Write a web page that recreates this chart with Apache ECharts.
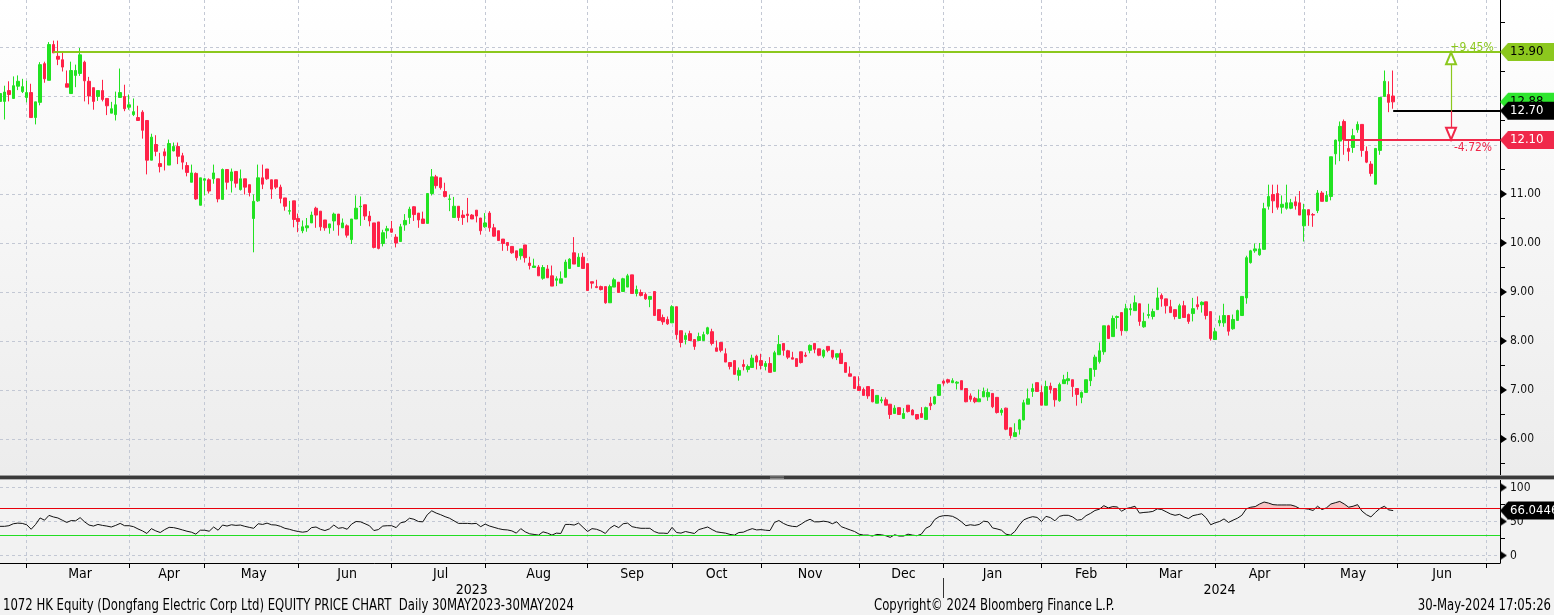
<!DOCTYPE html>
<html><head><meta charset="utf-8">
<script src="https://cdn.jsdelivr.net/npm/echarts@6/dist/echarts.min.js"></script>
<style>html,body{margin:0;padding:0;background:#f2f2f2}#c{width:1554px;height:615px}</style>
</head><body><div id="c"></div>
<script>
// ---------------- data ----------------
const open = [
12.89,12.89,13.11,12.95,13.20,13.09,12.97,13.07,12.56,12.87,
13.66,13.32,14.05,13.81,13.74,13.25,13.05,13.42,13.46,13.69,
13.30,13.17,12.99,13.11,12.95,12.65,12.62,12.97,12.99,12.77,
12.62,12.56,12.67,12.50,11.69,12.01,11.62,11.86,11.59,11.88,
11.97,11.78,11.58,11.24,11.42,10.77,11.28,11.29,11.31,11.31,
10.89,11.50,11.27,11.46,11.09,11.31,11.19,10.50,10.86,11.33,
11.51,11.29,11.29,11.14,10.92,10.65,10.86,10.50,10.25,10.31,
10.41,10.71,10.65,10.47,10.31,10.45,10.59,10.31,10.35,10.07,
10.49,10.74,10.78,10.55,10.41,10.43,9.99,10.25,10.29,10.12,
10.03,10.37,10.52,10.74,10.61,10.49,10.40,11.01,11.35,11.33,
11.05,10.89,10.52,10.75,10.57,10.59,10.57,10.67,10.51,10.33,
10.61,10.31,10.25,10.08,10.01,9.93,9.84,9.74,9.96,9.59,
9.50,9.51,9.28,9.47,9.33,9.24,9.18,9.30,9.48,9.80,
9.52,9.71,9.58,9.21,9.11,9.11,9.11,8.78,9.10,9.20,
9.01,9.10,9.35,8.97,8.99,8.95,8.85,9.01,8.64,8.48,
8.44,8.37,8.70,8.21,8.03,8.15,8.03,8.01,8.01,8.15,
8.19,7.86,7.97,7.74,7.56,7.60,7.30,7.52,7.42,7.46,
7.69,7.60,7.48,7.54,7.38,7.72,7.95,7.80,7.66,7.64,
7.78,7.71,7.81,7.95,7.84,7.69,7.89,7.81,7.67,7.75,
7.56,7.33,7.27,7.07,7.01,7.07,7.01,6.73,6.78,6.80,
6.71,6.52,6.64,6.42,6.69,6.59,6.50,6.52,6.40,6.73,
6.72,6.89,7.18,7.21,7.15,7.14,7.19,7.03,6.88,6.83,
6.76,6.86,6.86,6.93,6.85,6.54,6.63,6.23,6.05,6.20,
6.39,6.71,6.97,7.15,6.95,6.69,7.08,7.03,6.78,7.13,
7.19,7.21,7.03,6.85,6.95,7.19,7.42,7.58,7.78,8.31,
8.09,8.48,8.58,8.21,8.64,8.62,8.76,8.29,8.52,8.50,
8.64,8.93,8.86,8.70,8.64,8.46,8.72,8.54,8.56,8.74,
8.74,8.80,8.60,8.03,8.37,8.37,8.52,8.25,8.42,8.52,
8.88,9.60,9.84,9.76,9.87,10.75,10.99,11.01,10.73,10.71,
10.71,10.84,10.82,10.35,10.68,10.58,10.66,11.02,10.85,10.95,
11.82,12.08,12.48,11.93,11.95,12.31,12.42,11.87,11.61,11.20,
11.89,12.99,13.03,13.00];
const close = [
13.05,13.08,13.03,13.21,13.30,13.19,13.07,12.56,12.88,13.64,
13.35,14.05,13.88,13.75,13.59,13.18,13.52,13.52,13.84,13.31,
13.00,12.89,13.11,12.93,12.80,12.74,12.82,13.07,12.74,12.82,
12.68,12.50,12.30,11.69,12.16,11.87,11.56,11.78,12.03,11.97,
11.77,11.65,11.44,11.43,10.90,11.33,11.31,11.06,11.43,10.90,
11.50,11.24,11.45,11.22,11.31,11.14,11.03,10.85,11.33,11.20,
11.31,11.10,11.14,10.91,10.75,10.66,10.48,10.44,10.33,10.35,
10.57,10.57,10.33,10.31,10.39,10.59,10.37,10.41,10.16,10.49,
10.71,10.75,10.55,10.45,9.91,9.89,10.21,10.29,10.22,10.00,
10.33,10.46,10.69,10.58,10.47,10.40,11.01,11.35,11.17,11.13,
10.95,10.90,10.75,10.52,10.52,10.56,10.49,10.55,10.25,10.41,
10.31,10.14,10.05,9.99,9.95,9.80,9.70,9.88,9.70,9.54,
9.53,9.33,9.50,9.29,9.12,9.27,9.27,9.61,9.67,9.57,
9.71,9.48,9.03,9.18,9.09,9.05,8.78,9.11,9.25,8.99,
9.27,9.33,8.97,9.05,8.93,8.86,8.91,8.52,8.42,8.39,
8.35,8.70,8.13,7.97,8.11,8.01,7.89,8.09,8.13,8.27,
7.95,7.79,7.81,7.57,7.48,7.32,7.40,7.48,7.48,7.65,
7.57,7.50,7.54,7.36,7.76,7.93,7.81,7.67,7.63,7.48,
7.56,7.69,7.91,7.83,7.71,7.81,7.81,7.67,7.74,7.54,
7.36,7.28,7.03,6.99,6.89,6.88,6.76,6.89,6.80,6.69,
6.50,6.63,6.50,6.52,6.56,6.49,6.41,6.44,6.64,6.68,
6.86,7.11,7.14,7.16,7.19,7.16,7.01,6.76,6.81,6.76,
6.82,6.97,6.95,6.66,6.54,6.59,6.20,6.07,6.13,6.39,
6.74,6.82,7.03,6.97,6.69,7.07,7.01,6.80,7.11,7.21,
7.23,7.07,6.91,6.95,7.21,7.44,7.67,7.80,8.31,8.05,
8.46,8.50,8.21,8.66,8.66,8.78,8.40,8.40,8.54,8.60,
8.88,8.86,8.72,8.58,8.50,8.72,8.48,8.40,8.66,8.70,
8.79,8.52,8.05,8.19,8.42,8.52,8.20,8.44,8.62,8.91,
9.70,9.84,9.88,9.88,10.70,10.95,10.86,10.73,10.79,10.82,
10.82,10.76,10.57,10.68,10.57,10.57,11.02,10.85,10.97,11.76,
12.10,12.38,12.11,11.87,12.19,12.42,11.89,11.65,11.42,11.93,
12.97,13.30,12.87,12.88];
const low = [
12.89,12.52,12.89,12.95,13.12,13.06,12.87,12.56,12.42,12.81,
13.27,13.32,13.88,13.63,13.50,13.18,13.05,13.18,13.41,12.89,
12.83,12.72,12.90,12.89,12.61,12.65,12.50,12.97,12.69,12.72,
12.59,12.50,12.13,11.40,11.69,11.77,11.44,11.48,11.59,11.87,
11.61,11.50,11.36,11.24,10.88,10.77,10.97,11.01,11.21,10.83,
10.89,11.09,11.03,11.13,11.07,10.99,10.95,9.81,10.84,11.10,
11.29,10.90,11.10,10.81,10.66,10.58,10.32,10.22,10.20,10.23,
10.41,10.31,10.25,10.25,10.19,10.25,10.15,10.31,10.11,9.98,
10.49,10.35,10.47,10.34,9.89,9.87,9.93,10.09,10.21,9.91,
10.03,10.25,10.39,10.45,10.31,10.40,10.40,10.97,11.11,11.09,
10.93,10.65,10.52,10.45,10.37,10.42,10.49,10.42,10.17,10.31,
10.23,10.13,10.05,9.84,9.84,9.78,9.64,9.66,9.60,9.46,
9.50,9.33,9.25,9.29,9.12,9.12,9.18,9.30,9.48,9.57,
9.52,9.48,9.03,9.07,9.08,9.03,8.76,8.78,9.10,8.99,
9.01,9.10,8.97,8.91,8.91,8.84,8.69,8.52,8.42,8.33,
8.33,8.37,8.03,7.87,7.93,8.01,7.82,8.01,8.01,8.13,
7.91,7.79,7.77,7.57,7.42,7.32,7.19,7.40,7.36,7.46,
7.42,7.42,7.40,7.36,7.38,7.72,7.70,7.63,7.63,7.48,
7.54,7.67,7.75,7.75,7.69,7.65,7.77,7.63,7.61,7.54,
7.36,7.28,7.03,6.99,6.89,6.82,6.75,6.73,6.73,6.69,
6.41,6.52,6.50,6.42,6.54,6.49,6.39,6.44,6.40,6.59,
6.70,6.89,7.09,7.13,7.14,7.01,7.01,6.75,6.76,6.73,
6.76,6.86,6.78,6.63,6.52,6.48,6.18,6.01,6.05,6.09,
6.38,6.71,6.86,6.97,6.69,6.69,6.93,6.66,6.76,7.13,
7.11,6.86,6.68,6.73,6.95,7.08,7.27,7.54,7.72,8.05,
8.09,8.25,8.11,8.21,8.52,8.62,8.31,8.27,8.46,8.44,
8.64,8.70,8.56,8.58,8.44,8.46,8.48,8.35,8.40,8.64,
8.58,8.44,8.01,8.03,8.30,8.29,8.11,8.23,8.42,8.52,
8.76,9.58,9.80,9.74,9.87,10.68,10.61,10.68,10.60,10.68,
10.69,10.68,10.57,10.03,10.35,10.33,10.61,10.85,10.84,10.87,
11.60,11.67,11.80,11.67,11.84,12.25,11.76,11.63,11.36,11.19,
11.80,12.99,12.67,12.74];
const high = [
13.06,13.21,13.30,13.40,13.42,13.35,13.31,13.25,12.88,13.69,
13.70,14.10,14.13,14.13,13.89,13.52,13.70,13.64,13.98,13.72,
13.39,13.17,13.11,13.33,12.95,12.88,13.09,13.56,13.23,13.03,
12.95,12.80,12.71,12.50,12.23,12.20,11.84,11.93,12.11,12.05,
12.05,11.84,11.65,11.60,11.44,11.33,11.33,11.32,11.60,11.31,
11.52,11.50,11.52,11.46,11.50,11.31,11.19,10.99,11.60,11.60,
11.51,11.29,11.29,11.19,10.92,10.86,10.86,10.60,10.46,10.51,
10.64,10.74,10.65,10.47,10.39,10.62,10.59,10.50,10.38,10.49,
10.97,10.95,10.78,10.65,10.41,10.43,10.27,10.35,10.45,10.18,
10.39,10.59,10.74,10.75,10.61,10.64,11.01,11.51,11.39,11.33,
11.23,10.99,10.94,10.75,10.67,10.92,10.59,10.67,10.51,10.61,
10.65,10.39,10.25,10.08,10.01,9.93,9.84,9.88,9.96,9.72,
9.68,9.55,9.55,9.55,9.54,9.32,9.42,9.66,9.69,10.12,
9.79,9.80,9.58,9.21,9.25,9.13,9.11,9.15,9.29,9.20,
9.29,9.37,9.35,9.13,9.05,8.99,8.91,9.01,8.64,8.54,
8.50,8.73,8.70,8.21,8.17,8.21,8.03,8.17,8.19,8.29,
8.25,8.01,7.97,7.85,7.56,7.60,7.46,7.62,7.52,7.72,
7.72,7.74,7.59,7.67,7.80,8.12,7.95,7.82,7.78,7.64,
7.78,7.77,7.93,7.95,7.84,7.83,7.89,7.81,7.74,7.83,
7.56,7.48,7.27,7.28,7.05,7.07,7.01,6.89,6.86,6.85,
6.71,6.69,6.64,6.63,6.69,6.61,6.50,6.65,6.66,6.86,
6.88,7.11,7.21,7.23,7.24,7.18,7.19,7.03,6.93,6.86,
7.01,7.05,7.03,6.93,6.85,6.63,6.64,6.23,6.32,6.41,
6.80,7.03,7.13,7.15,7.09,7.19,7.15,7.03,7.15,7.31,
7.37,7.21,7.03,6.97,7.21,7.44,7.72,7.97,8.31,8.33,
8.52,8.52,8.58,8.76,8.76,8.93,8.76,8.58,8.76,8.66,
9.09,8.97,8.86,8.84,8.64,8.76,8.82,8.56,8.88,8.91,
8.81,8.80,8.60,8.27,8.52,8.76,8.52,8.54,8.64,8.91,
9.74,9.86,9.99,10.00,10.82,11.19,11.19,11.19,10.97,11.19,
10.90,10.95,11.06,10.80,10.68,10.61,11.08,11.06,11.06,11.76,
12.11,12.48,12.52,12.11,12.33,12.48,12.42,11.97,11.67,11.93,
12.97,13.52,13.30,13.52];
const rsi = [
42.9,42.9,43.8,46.7,47.6,47.2,45.2,38.6,45.7,55.2,
51.9,59.0,56.7,55.2,51.9,48.6,51.4,51.0,55.7,49.5,
44.8,43.3,45.7,44.3,43.3,41.9,44.3,47.2,43.8,43.8,
42.4,39.1,36.2,32.4,39.5,36.2,33.8,38.1,41.4,41.0,
39.5,37.6,35.7,34.3,31.4,37.2,37.2,35.7,41.9,37.2,
44.8,43.3,45.2,44.3,44.8,42.9,41.4,40.0,46.7,45.7,
47.6,45.2,44.8,42.9,40.0,38.6,36.7,35.3,34.3,35.3,
41.0,41.9,38.6,36.7,39.1,44.8,40.0,41.0,38.6,46.2,
50.0,49.5,46.7,43.8,36.7,38.1,43.3,43.8,43.8,41.0,
48.1,49.5,54.8,53.3,50.0,49.5,60.0,65.7,62.4,60.0,
57.1,54.8,51.0,47.2,47.2,47.2,46.7,47.2,42.4,46.2,
43.3,41.4,39.5,38.1,37.6,36.2,32.9,39.5,34.8,31.9,
31.0,30.0,34.8,32.9,30.0,32.9,32.4,45.7,45.7,44.8,
47.6,41.4,35.3,39.5,38.6,36.2,32.4,40.0,44.3,41.0,
46.7,47.6,42.4,41.0,40.0,40.0,40.0,35.3,32.9,32.9,
32.4,41.4,33.8,32.9,35.3,33.8,32.4,38.1,40.0,41.9,
38.1,34.8,33.8,32.9,31.0,30.0,33.8,34.3,37.2,39.5,
37.6,38.1,37.2,36.7,48.6,51.4,47.2,44.3,42.9,42.4,
46.2,50.5,53.3,49.5,49.5,50.5,49.5,46.7,49.5,42.4,
40.0,37.6,35.3,31.4,30.0,30.0,28.6,31.0,30.5,29.1,
26.7,30.5,28.6,28.6,31.4,30.0,29.1,31.4,40.0,43.3,
52.9,57.1,58.6,58.6,57.6,54.3,49.5,43.8,45.2,44.3,
45.7,50.5,49.5,40.5,39.1,37.2,31.4,30.0,35.3,44.8,
52.4,55.2,57.1,56.0,50.0,57.6,55.7,51.0,57.6,59.1,
59.1,56.7,51.9,52.9,58.6,61.9,66.2,68.1,73.3,70.0,
71.9,71.4,65.2,69.0,70.5,72.4,62.4,63.3,63.8,64.8,
68.6,67.6,64.3,61.0,59.1,60.5,56.7,54.3,58.6,60.0,
61.4,55.2,45.2,48.1,50.0,53.8,48.6,51.9,54.8,59.1,
68.6,71.0,71.9,75.7,78.6,77.1,74.8,74.3,74.3,74.3,
74.3,72.4,69.0,69.0,68.1,66.2,72.4,67.6,70.0,75.7,
77.6,79.5,75.7,71.0,72.4,74.8,65.2,60.0,56.7,63.3,
69.0,72.4,67.1,66.04];
const holidays = ['2023-04-05','2023-04-07','2023-04-10','2023-05-01','2023-05-26','2023-06-22',
  '2023-09-01','2023-09-08','2023-10-02','2023-10-23','2023-12-25','2023-12-26','2024-01-01',
  '2024-02-12','2024-02-13','2024-03-29','2024-04-01','2024-04-04','2024-05-01','2024-05-15'];
const firstDay = '2023-02-20';
const slotCount = 338;                 // trading-day slots shown on the axis (data + future)
const monthNames = ['Jan','Feb','Mar','Apr','May','Jun','Jul','Aug','Sep','Oct','Nov','Dec'];
const resistance = 13.90, support = 12.10, pivot = 12.70, lastPrice = 12.88, rsiLast = 66.0446;
const resistanceFrom = 12, supportFrom = 302, pivotFrom = 313, arrowAt = 326;
const pctUp = '+9.45%', pctDown = '-4.72%';
const footLeft = '1072 HK Equity (Dongfang Electric Corp Ltd) EQUITY PRICE CHART  Daily 30MAY2023-30MAY2024';
const footMid = 'Copyright\u00a9 2024 Bloomberg Finance L.P.';
const footRight = '30-May-2024 17:05:26';

// ---------------- build ----------------
const hol = new Set(holidays);
const cats = [];
{
  const d = new Date(firstDay + 'T00:00:00Z');
  while (cats.length < slotCount) {
    const s = d.toISOString().slice(0, 10), w = d.getUTCDay();
    if (w !== 0 && w !== 6 && !hol.has(s)) cats.push(s);
    d.setUTCDate(d.getUTCDate() + 1);
  }
}
const monthEnd = new Set();
for (let i = 0; i < cats.length - 1; i++) if (cats[i].slice(5, 7) !== cats[i + 1].slice(5, 7)) monthEnd.add(i);
const ends = [...monthEnd].sort((a, b) => a - b);
const monthLabel = new Map();
for (let k = 0; k < ends.length - 1; k++) {
  monthLabel.set(Math.round((ends[k] + ends[k + 1]) / 2), monthNames[+cats[ends[k + 1]].slice(5, 7) - 1]);
}
let yearEnd = 0;
for (let i = 0; i < cats.length - 1; i++) if (cats[i].slice(0, 4) !== cats[i + 1].slice(0, 4)) yearEnd = i;
const yearLabel = new Map([[Math.floor(yearEnd / 2), cats[0].slice(0, 4)], [Math.floor((yearEnd + slotCount - 1) / 2), cats[slotCount - 1].slice(0, 4)]]);

const ohlc = open.map((o, i) => [o, close[i], low[i], high[i]]);
const lastCat = cats[slotCount - 1];
const tagValues = [resistance, support, pivot, lastPrice];

const FONT = '"Liberation Sans Narrow","Arial Narrow","DejaVu Sans Condensed",sans-serif';
const UP = '#22e222', DOWN = '#ff2248', LIME = '#8cc81e', RED = '#f0284a';
const NOLINE = 'rgba(0,0,0,0)';

function tri(color, w, h, dir) {
  const c = document.createElement('canvas'); c.width = w; c.height = h;
  const g = c.getContext('2d'); g.fillStyle = color; g.beginPath();
  if (dir === 'right') { g.moveTo(0, 0); g.lineTo(w, h / 2); g.lineTo(0, h); }
  else { g.moveTo(w, 0); g.lineTo(0, h / 2); g.lineTo(w, h); }
  g.closePath(); g.fill(); return c;
}
const axisTri = tri('#000', 6, 8, 'right');
function tagLabel(text, bg, fg) {
  return { show: true, position: 'end', distance: 0, formatter: () => '{tp| }{tx|' + text + '}',
    rich: { tp: { width: 8, height: 18, backgroundColor: { image: tri(bg, 8, 18, 'left') } },
            tx: { backgroundColor: bg, color: fg, fontSize: 13, fontFamily: FONT, height: 18, lineHeight: 18, padding: [0, 14, 0, 2] } } };
}
const axisRich = { t: { width: 6, height: 8, backgroundColor: { image: axisTri } }, v: { fontSize: 12, color: '#111', fontFamily: FONT, padding: [0, 0, 0, 3] } };
const isInt = v => Math.abs(v - Math.round(v)) < 1e-6;
const underTag = v => tagValues.some(t => Math.abs(t - v) < 0.15);
const dash = { type: [3, 3], color: '#c3c8d4', width: 1 };
const footStyle = { fontSize: 15, fontFamily: FONT, fill: '#000', verticalAlign: 'top' };

const chart = echarts.init(document.getElementById('c'), null, { renderer: 'canvas' });
chart.setOption({
  animation: false,
  backgroundColor: { type: 'linear', x: 0, y: 0, x2: 0, y2: 1, colorStops: [
    { offset: 0, color: '#ffffff' }, { offset: 0.77, color: '#ececec' }, { offset: 0.775, color: '#f2f2f2' }, { offset: 1, color: '#f2f2f2' }] },
  textStyle: { fontFamily: FONT },
  grid: [
    { left: 0, right: 54, top: 0, height: 476, outerBoundsMode: 'none', containLabel: false },
    { left: 0, right: 54, top: 480, height: 83, outerBoundsMode: 'none', containLabel: false }
  ],
  xAxis: [
    { type: 'category', gridIndex: 0, data: cats, boundaryGap: false,
      axisLine: { show: false }, axisTick: { show: false }, axisLabel: { show: false },
      splitLine: { show: true, interval: i => monthEnd.has(i), lineStyle: dash } },
    { type: 'category', gridIndex: 1, data: cats, boundaryGap: false,
      axisLine: { show: true, onZero: false, lineStyle: { color: '#000', width: 1 } },
      axisTick: { show: true, interval: i => monthEnd.has(i), length: 5, lineStyle: { color: '#000' } },
      axisLabel: { show: true, interval: i => monthLabel.has(i), formatter: (v, i) => monthLabel.get(i) || '', margin: 4, fontSize: 14, color: '#000', fontFamily: FONT },
      splitLine: { show: true, interval: i => monthEnd.has(i), lineStyle: dash } },
    { type: 'category', gridIndex: 1, data: cats, boundaryGap: false, position: 'bottom', offset: 15,
      axisLine: { show: false, onZero: false },
      axisTick: { show: true, interval: i => i === yearEnd, length: 20, lineStyle: { color: '#333' } },
      axisLabel: { show: true, interval: i => yearLabel.has(i), formatter: (v, i) => yearLabel.get(i) || '', margin: 5, fontSize: 14, color: '#000', fontFamily: FONT },
      splitLine: { show: false } }
  ],
  yAxis: [
    { type: 'value', gridIndex: 0, position: 'right', min: 5.245, max: 14.959, minInterval: 1, maxInterval: 1, z: 0,
      axisLine: { show: true, lineStyle: { color: '#000' } }, axisTick: { show: false },
      minorTick: { show: true, splitNumber: 2, length: 5, lineStyle: { color: '#000' } },
      splitLine: { show: true, showMinLine: false, showMaxLine: false, lineStyle: dash },
      axisLabel: { margin: 1, formatter: v => (isInt(v) && !underTag(v)) ? '{t| }{v|' + v.toFixed(2) + '}' : '', rich: axisRich } },
    { type: 'value', gridIndex: 1, position: 'right', min: -11, max: 111, minInterval: 50, maxInterval: 50, z: 0,
      axisLine: { show: true, lineStyle: { color: '#000' } }, axisTick: { show: false },
      minorTick: { show: true, splitNumber: 2, length: 5, lineStyle: { color: '#000' } },
      splitLine: { show: true, showMinLine: false, showMaxLine: false, lineStyle: dash },
      axisLabel: { margin: 1, formatter: v => (isInt(v) && v >= 0 && v <= 100) ? '{t| }{v|' + Math.round(v) + '}' : '', rich: axisRich } }
  ],
  visualMap: [{ type: 'piecewise', show: false, seriesIndex: 1, dimension: 1,
    pieces: [{ gt: 70, lte: 1000, color: '#f6c4c4' }, { gte: -1000, lte: 70, color: 'rgba(255,255,255,0)' }] }],
  series: [
    { type: 'candlestick', xAxisIndex: 0, yAxisIndex: 0, data: ohlc, barWidth: 3,
      itemStyle: { color: UP, color0: DOWN, borderColor: UP, borderColor0: DOWN, borderWidth: 1 },
      markLine: { silent: true, zlevel: 1, z: 20, symbol: ['none', 'none'], label: { show: false },
        data: [
          [{ coord: [cats[pivotFrom], lastPrice], lineStyle: { color: NOLINE, width: 1 }, label: tagLabel(lastPrice.toFixed(2), '#2ee62e', '#000') }, { coord: [lastCat, lastPrice] }],
          [{ coord: [cats[resistanceFrom], resistance], lineStyle: { color: LIME, width: 2, type: 'solid' }, label: tagLabel(resistance.toFixed(2), LIME, '#000') }, { coord: [lastCat, resistance] }],
          [{ coord: [cats[supportFrom], support], lineStyle: { color: RED, width: 2, type: 'solid' }, label: tagLabel(support.toFixed(2), RED, '#fff') }, { coord: [lastCat, support] }],
          [{ coord: [cats[pivotFrom], pivot], lineStyle: { color: '#000', width: 2, type: 'solid' }, label: tagLabel(pivot.toFixed(2), '#000', '#fff') }, { coord: [lastCat, pivot] }],
          [{ coord: [cats[arrowAt], pivot], lineStyle: { color: LIME, width: 1.2, type: 'solid' }, label: { show: false } },
           { coord: [cats[arrowAt], resistance - 0.13], symbol: 'emptyTriangle', symbolSize: [10, 12] }],
          [{ coord: [cats[arrowAt], pivot], lineStyle: { color: RED, width: 1.2, type: 'solid' }, label: { show: false } },
           { coord: [cats[arrowAt], support + 0.13], symbol: 'emptyTriangle', symbolSize: [10, 12] }]
        ] },
      markPoint: { silent: true, zlevel: 1, symbol: 'rect', symbolSize: 1, itemStyle: { color: 'rgba(0,0,0,0)' },
        data: [
          { coord: [cats[arrowAt], resistance], label: { show: true, position: 'top', distance: 0, offset: [21, 2], formatter: pctUp, color: LIME, fontSize: 12, fontFamily: FONT } },
          { coord: [cats[arrowAt], support], label: { show: true, position: 'bottom', distance: 0, offset: [22, 1], formatter: pctDown, color: RED, fontSize: 12, fontFamily: FONT } }
        ] } },
    { type: 'line', xAxisIndex: 1, yAxisIndex: 1, data: rsi, symbol: 'none', silent: true,
      lineStyle: { width: 0 }, areaStyle: { origin: 70, opacity: 1 },
      markLine: { silent: true, zlevel: 1, z: 20, symbol: ['none', 'none'], label: { show: false },
        data: [
          [{ coord: [cats[pivotFrom], rsiLast], lineStyle: { color: NOLINE, width: 1 }, label: tagLabel(String(rsiLast), '#000', '#fff') }, { coord: [lastCat, rsiLast] }]
        ] } },
    { type: 'line', xAxisIndex: 1, yAxisIndex: 1, data: rsi, symbol: 'none', silent: true, z: 3,
      lineStyle: { color: '#111', width: 1 }, itemStyle: { color: '#111' },
      markLine: { silent: true, symbol: ['none', 'none'], label: { show: false },
        data: [
          { yAxis: 70, lineStyle: { color: '#e8000b', width: 1.2, type: 'solid' } },
          { yAxis: 30, lineStyle: { color: '#22dd22', width: 1.2, type: 'solid' } }
        ] } }
  ],
  graphic: [
    { type: 'rect', shape: { x: 0, y: 475, width: 1554, height: 1 }, style: { fill: '#9a9a9a' }, z: 100 },
    { type: 'rect', shape: { x: 0, y: 476, width: 1554, height: 3 }, style: { fill: '#3a3a3a' }, z: 100 },
    { type: 'rect', shape: { x: 0, y: 479, width: 1554, height: 1 }, style: { fill: '#b0b0b0' }, z: 100 },
    { type: 'rect', shape: { x: 770, y: 476.5, width: 14, height: 0.8 }, style: { fill: '#9a9a9a' }, z: 101 },
    { type: 'rect', shape: { x: 770, y: 478, width: 14, height: 0.8 }, style: { fill: '#9a9a9a' }, z: 101 },
    { type: 'text', x: 3, y: 599, scaleX: 0.866, style: Object.assign({ text: footLeft, align: 'left' }, footStyle) },
    { type: 'text', x: 874, y: 599, scaleX: 0.866, style: Object.assign({ text: footMid, align: 'left' }, footStyle) },
    { type: 'text', x: 1551, y: 599, scaleX: 0.866, style: Object.assign({ text: footRight, align: 'right' }, footStyle) }
  ]
});
</script></body></html>
